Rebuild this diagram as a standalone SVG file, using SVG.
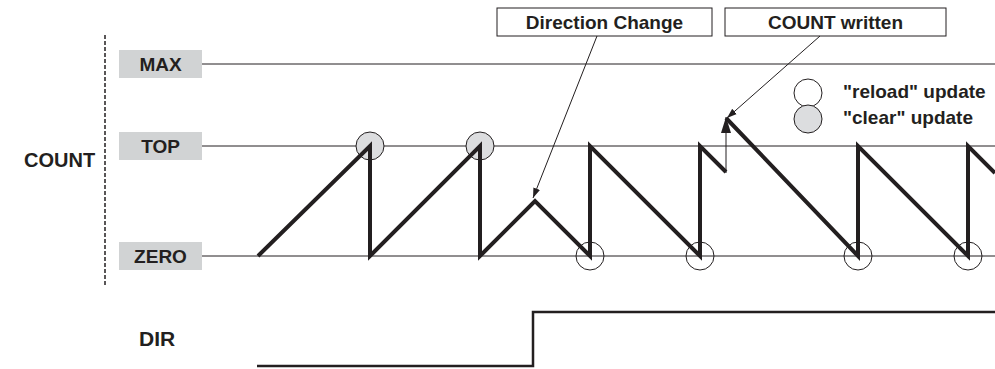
<svg xmlns="http://www.w3.org/2000/svg" width="995" height="369" viewBox="0 0 995 369">
<style>
  .lbl { font-family: "Liberation Sans", Arial, sans-serif; font-weight: bold; fill: #231f20; }
  .box { fill: #d1d3d4; }
  .lvl { stroke: #231f20; stroke-width: 1; fill: none; }
  .wave { stroke: #231f20; stroke-width: 4; fill: none; stroke-linejoin: miter; }
  .thin { stroke: #231f20; stroke-width: 1; fill: none; }
  .call { fill: #ffffff; stroke: #231f20; stroke-width: 1; }
  .ocirc { fill: none; stroke: #231f20; stroke-width: 1; }
  .gcirc { fill: #dcdddf; stroke: #231f20; stroke-width: 1; }
</style>
<defs>
  <marker id="ah" viewBox="0 0 10 10" refX="10" refY="5" markerWidth="10" markerHeight="10" markerUnits="userSpaceOnUse" orient="auto">
    <path d="M0,1.5 L10,5 L0,8.5 Z" fill="#231f20"/>
  </marker>
  <marker id="ah2" viewBox="0 0 16 10" refX="16" refY="5" markerWidth="16" markerHeight="10" markerUnits="userSpaceOnUse" orient="auto">
    <path d="M0,0 L16,5 L0,10 Z" fill="#231f20"/>
  </marker>
</defs>

<g id="count-axis">
  <line x1="105" y1="35" x2="105" y2="286" stroke="#231f20" stroke-width="1.5" stroke-dasharray="4 2"/>
  <text class="lbl" x="24" y="167" font-size="20">COUNT</text>
</g>

<g id="max">
  <rect class="box" x="119" y="50" width="83" height="28"/>
  <text class="lbl" x="160.5" y="71" font-size="19" text-anchor="middle">MAX</text>
  <line class="lvl" x1="202" y1="64" x2="995" y2="64"/>
</g>
<g id="top">
  <rect class="box" x="119" y="132" width="83" height="28"/>
  <text class="lbl" x="160.5" y="153" font-size="19" text-anchor="middle">TOP</text>
  <line class="lvl" x1="202" y1="146" x2="995" y2="146"/>
</g>
<g id="zero">
  <rect class="box" x="119" y="242" width="83" height="28"/>
  <text class="lbl" x="160.5" y="263" font-size="19" text-anchor="middle">ZERO</text>
  <line class="lvl" x1="202" y1="256" x2="995" y2="256"/>
</g>

<g id="clear-markers">
  <circle class="gcirc" cx="370" cy="146" r="14"/>
  <circle class="gcirc" cx="480" cy="146" r="14"/>
</g>

<g id="count-wave">
  <polyline class="wave" points="258,256 370,146 370,256 480,146 480,256 535,201 590,256 590,146 700,256 700,146 726,172"/>
  <polyline class="wave" points="726,118 858,256 858,146 968,256 968,146 995,173"/>
</g>

<g id="reload-markers">
  <circle class="ocirc" cx="590" cy="256" r="14"/>
  <circle class="ocirc" cx="700" cy="256" r="14"/>
  <circle class="ocirc" cx="858" cy="256" r="14"/>
  <circle class="ocirc" cx="968" cy="256" r="14"/>
</g>

<g id="direction-change">
  <rect class="call" x="497" y="8" width="215" height="28"/>
  <text class="lbl" x="604.5" y="29" font-size="19" text-anchor="middle">Direction Change</text>
</g>
<g id="count-written">
  <rect class="call" x="725" y="8" width="221" height="28"/>
  <text class="lbl" x="835.5" y="29" font-size="19" text-anchor="middle">COUNT written</text>
</g>

<g id="legend">
  <circle class="ocirc" cx="808" cy="93" r="14" fill="#ffffff"/>
  <circle class="gcirc" cx="808" cy="119" r="14"/>
  <text class="lbl" x="843" y="98" font-size="19">"reload" update</text>
  <text class="lbl" x="843" y="124" font-size="19">"clear" update</text>
</g>

<g id="dir">
  <text class="lbl" x="139" y="346" font-size="21">DIR</text>
  <polyline points="257,366 533,366 533,312 995,312" fill="none" stroke="#231f20" stroke-width="2.5"/>
</g>

<g id="connectors">
  <line class="thin" x1="597" y1="36" x2="533" y2="198" marker-end="url(#ah)"/>
  <line class="thin" x1="820" y1="36" x2="727" y2="118" marker-end="url(#ah)"/>
  <line class="thin" x1="726" y1="173" x2="726" y2="117" marker-end="url(#ah2)"/>
</g>
</svg>
